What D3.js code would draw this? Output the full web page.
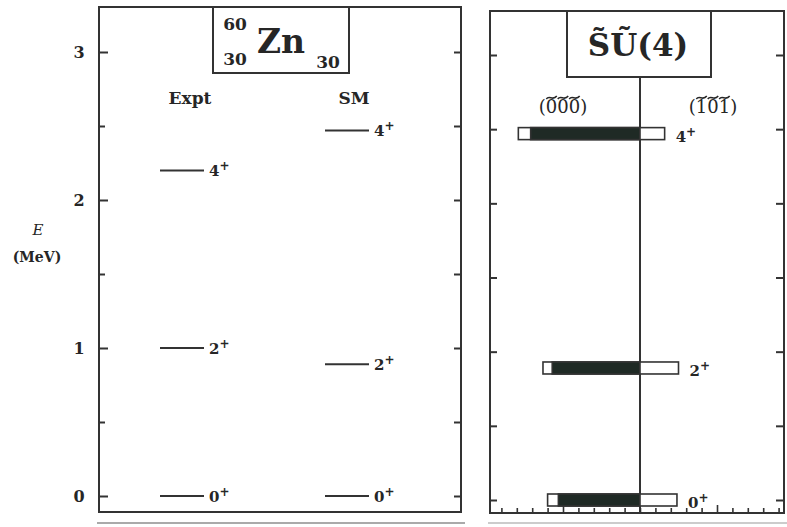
<!DOCTYPE html>
<html><head><meta charset="utf-8">
<script src="https://cdn.jsdelivr.net/npm/d3@7"></script>
<style>
html,body{margin:0;padding:0;background:#fff;}
svg{display:block;}
text{font-family:"DejaVu Serif","Liberation Serif",serif;fill:#262626;}
</style></head>
<body>
<svg id="chart" width="787" height="527"></svg>
<script>
// ---- data ----
const yTickValues = [0, 1, 2, 3];
const yMinorTicks = [0.5, 1.5, 2.5];
const states = ["0", "2", "4"];           // spin, parity "+"
const columns = ["Expt", "SM"];
const exptEnergies = [0.00, 1.00, 2.20];   // MeV
const smEnergies = [0.00, 0.89, 2.47];     // MeV
// SU(4) decomposition (percent), left = (000), right = (101)
const su4Dark = [53, 57, 71];             // dark part of (000)
const su4LeftWhite = [7, 6, 8];            // open part of (000)
const su4Right = [24, 25, 16];             // (101)
const leftRepLabel = "(000)";              // drawn with tildes over digits
const rightRepLabel = "(101)";
const xTicksR = d3.range(-90, 91, 10);

const svg = d3.select("#chart");
const ink = "#333";

// ---------- LEFT PANEL ----------
const L = {x0: 99, x1: 461, y0: 7, y1: 512};
const yL = d3.scaleLinear().domain([0, 3]).range([496, 52]);
const xCol = d3.scalePoint().domain(columns).range([182, 347]);

const gL = svg.append("g");
gL.append("rect").attr("x", L.x0).attr("y", L.y0).attr("width", L.x1 - L.x0).attr("height", L.y1 - L.y0)
  .attr("fill", "none").attr("stroke", ink).attr("stroke-width", 2);

gL.append("g").attr("transform", `translate(${L.x0},0)`)
  .call(d3.axisRight(yL).tickValues(yTickValues).tickSize(9).tickFormat(""))
  .call(g => g.select(".domain").remove())
  .call(g => g.selectAll("line").attr("stroke", ink).attr("stroke-width", 2));
gL.append("g").attr("transform", `translate(${L.x0},0)`)
  .call(d3.axisRight(yL).tickValues(yMinorTicks).tickSize(6).tickFormat(""))
  .call(g => g.select(".domain").remove())
  .call(g => g.selectAll("line").attr("stroke", ink).attr("stroke-width", 2));
gL.append("g").attr("transform", `translate(${L.x1},0)`)
  .call(d3.axisLeft(yL).tickValues(yTickValues.concat(yMinorTicks)).tickSize(7).tickFormat(""))
  .call(g => g.select(".domain").remove())
  .call(g => g.selectAll("line").attr("stroke", ink).attr("stroke-width", 2));

gL.selectAll("text.ytl").data(yTickValues).join("text").attr("class", "ytl")
  .attr("x", 79).attr("y", d => yL(d) + 6).attr("text-anchor", "middle")
  .attr("font-size", 16).attr("font-weight", "bold").text(d => d);

svg.append("text").attr("x", 38).attr("y", 235).attr("text-anchor", "middle")
  .attr("font-size", 15).attr("font-style", "italic").text("E");
svg.append("text").attr("x", 37).attr("y", 262).attr("text-anchor", "middle")
  .attr("font-size", 14).attr("font-weight", "bold").text("(MeV)");

// title box
gL.append("rect").attr("x", 213).attr("y", 7).attr("width", 136).attr("height", 66)
  .attr("fill", "#fff").attr("stroke", ink).attr("stroke-width", 2);
gL.append("text").attr("x", 235).attr("y", 30).attr("text-anchor", "middle").attr("font-size", 17).attr("font-weight", "bold").text("60");
gL.append("text").attr("x", 235).attr("y", 65).attr("text-anchor", "middle").attr("font-size", 17).attr("font-weight", "bold").text("30");
gL.append("text").attr("x", 281).attr("y", 53).attr("text-anchor", "middle").attr("font-size", 33).attr("font-weight", "bold").text("Zn");
gL.append("text").attr("x", 328).attr("y", 68).attr("text-anchor", "middle").attr("font-size", 17).attr("font-weight", "bold").text("30");

gL.selectAll("text.col").data(columns).join("text").attr("class", "col")
  .attr("x", d => xCol(d) + (d === "Expt" ? 8 : 7)).attr("y", 104).attr("text-anchor", "middle")
  .attr("font-size", 17).attr("font-weight", "bold").text(d => d);

const levelSets = [
  {col: "Expt", energies: exptEnergies},
  {col: "SM", energies: smEnergies}
];
levelSets.forEach(set => {
  const g = gL.append("g");
  g.selectAll("line").data(set.energies).join("line")
    .attr("x1", xCol(set.col) - 22).attr("x2", xCol(set.col) + 22)
    .attr("y1", d => yL(d)).attr("y2", d => yL(d))
    .attr("stroke", ink).attr("stroke-width", 2);
  const t = g.selectAll("text").data(set.energies).join("text")
    .attr("x", xCol(set.col) + 27).attr("y", d => yL(d) + 6)
    .attr("font-size", 15).attr("font-weight", "bold");
  t.append("tspan").text((d, i) => states[i]);
  t.append("tspan").attr("dy", -6).attr("font-size", 12).text("+");
});

// ---------- RIGHT PANEL ----------
const R = {x0: 490, x1: 784, y0: 11, y1: 513};
const yR = d3.scaleLinear().domain([0, 3]).range([500, 55]);
const xR = d3.scaleLinear().domain([0, 50]).range([640, 717]);

const gR = svg.append("g");
gR.append("rect").attr("x", R.x0).attr("y", R.y0).attr("width", R.x1 - R.x0).attr("height", R.y1 - R.y0)
  .attr("fill", "none").attr("stroke", ink).attr("stroke-width", 2);

gR.append("g").attr("transform", `translate(${R.x0},0)`)
  .call(d3.axisRight(yR).tickValues(yTickValues.concat(yMinorTicks)).tickSize(7).tickFormat(""))
  .call(g => g.select(".domain").remove())
  .call(g => g.selectAll("line").attr("stroke", ink).attr("stroke-width", 2));
gR.append("g").attr("transform", `translate(${R.x1},0)`)
  .call(d3.axisLeft(yR).tickValues(yTickValues.concat(yMinorTicks)).tickSize(8).tickFormat(""))
  .call(g => g.select(".domain").remove())
  .call(g => g.selectAll("line").attr("stroke", ink).attr("stroke-width", 2));
gR.append("g").attr("transform", `translate(0,${R.y1})`)
  .call(d3.axisTop(xR).tickValues(xTicksR).tickSize(5).tickFormat(""))
  .call(g => g.select(".domain").remove())
  .call(g => g.selectAll("line").attr("stroke", ink).attr("stroke-width", 1.6)
    .attr("y2", d => d % 50 === 0 && d !== 0 ? -8 : -5));

gR.append("rect").attr("x", 567).attr("y", 11).attr("width", 144).attr("height", 66)
  .attr("fill", "#fff").attr("stroke", ink).attr("stroke-width", 2);
gR.append("text").attr("x", 638).attr("y", 56).attr("text-anchor", "middle")
  .attr("font-size", 31).attr("font-weight", "bold").text("S\u0303U\u0303(4)");

gR.append("line").attr("x1", xR(0)).attr("x2", xR(0)).attr("y1", 77).attr("y2", R.y1)
  .attr("stroke", ink).attr("stroke-width", 2);

// rep labels with tildes over each digit
function tildeLabel(g, x, y, str, size) {
  const t = g.append("text").attr("x", x).attr("y", y).attr("text-anchor", "middle")
    .attr("font-size", size).text(str);
  const node = t.node();
  const ty = y - size * 0.86;
  for (let i = 1; i < str.length - 1; i++) {
    const a = node.getStartPositionOfChar(i).x + 0.5;
    const b = node.getEndPositionOfChar(i).x - 0.5;
    const w = b - a;
    g.append("path")
      .attr("d", `M${a},${ty + 1.5} C${a + w * 0.3},${ty - 3} ${a + w * 0.6},${ty + 4} ${b},${ty - 1.5}`)
      .attr("fill", "none").attr("stroke", "#262626").attr("stroke-width", 1.5);
  }
}
tildeLabel(gR, 563, 113, leftRepLabel, 18);
tildeLabel(gR, 713, 113, rightRepLabel, 18);

// bars
const bh = 12;
const barData = smEnergies.map((e, i) => ({e, dark: su4Dark[i], lw: su4LeftWhite[i], r: su4Right[i], s: states[i]}));
const gb = gR.append("g");
gb.selectAll("rect.lw").data(barData).join("rect").attr("class", "lw")
  .attr("x", d => xR(-(d.dark + d.lw))).attr("y", d => yR(d.e) - bh / 2)
  .attr("width", d => xR(0) - xR(-(d.dark + d.lw))).attr("height", bh)
  .attr("fill", "#fff").attr("stroke", ink).attr("stroke-width", 1.6);
gb.selectAll("rect.dk").data(barData).join("rect").attr("class", "dk")
  .attr("x", d => xR(-d.dark)).attr("y", d => yR(d.e) - bh / 2)
  .attr("width", d => xR(0) - xR(-d.dark)).attr("height", bh)
  .attr("fill", "#1f2a25").attr("stroke", ink).attr("stroke-width", 1.6);
gb.selectAll("rect.rw").data(barData).join("rect").attr("class", "rw")
  .attr("x", xR(0)).attr("y", d => yR(d.e) - bh / 2)
  .attr("width", d => xR(d.r) - xR(0)).attr("height", bh)
  .attr("fill", "#fff").attr("stroke", ink).attr("stroke-width", 1.6);
const bt = gb.selectAll("text").data(barData).join("text")
  .attr("x", d => xR(d.r) + 11).attr("y", d => yR(d.e) + 8)
  .attr("font-size", 15).attr("font-weight", "bold");
bt.append("tspan").text(d => d.s);
bt.append("tspan").attr("dy", -6).attr("font-size", 12).text("+");

svg.append("line").attr("x1", 97).attr("x2", 465).attr("y1", 523).attr("y2", 523).attr("stroke", "#aaa").attr("stroke-width", 2);
svg.append("line").attr("x1", 488).attr("x2", 787).attr("y1", 523).attr("y2", 523).attr("stroke", "#ccc").attr("stroke-width", 2);
</script>
</body></html>
